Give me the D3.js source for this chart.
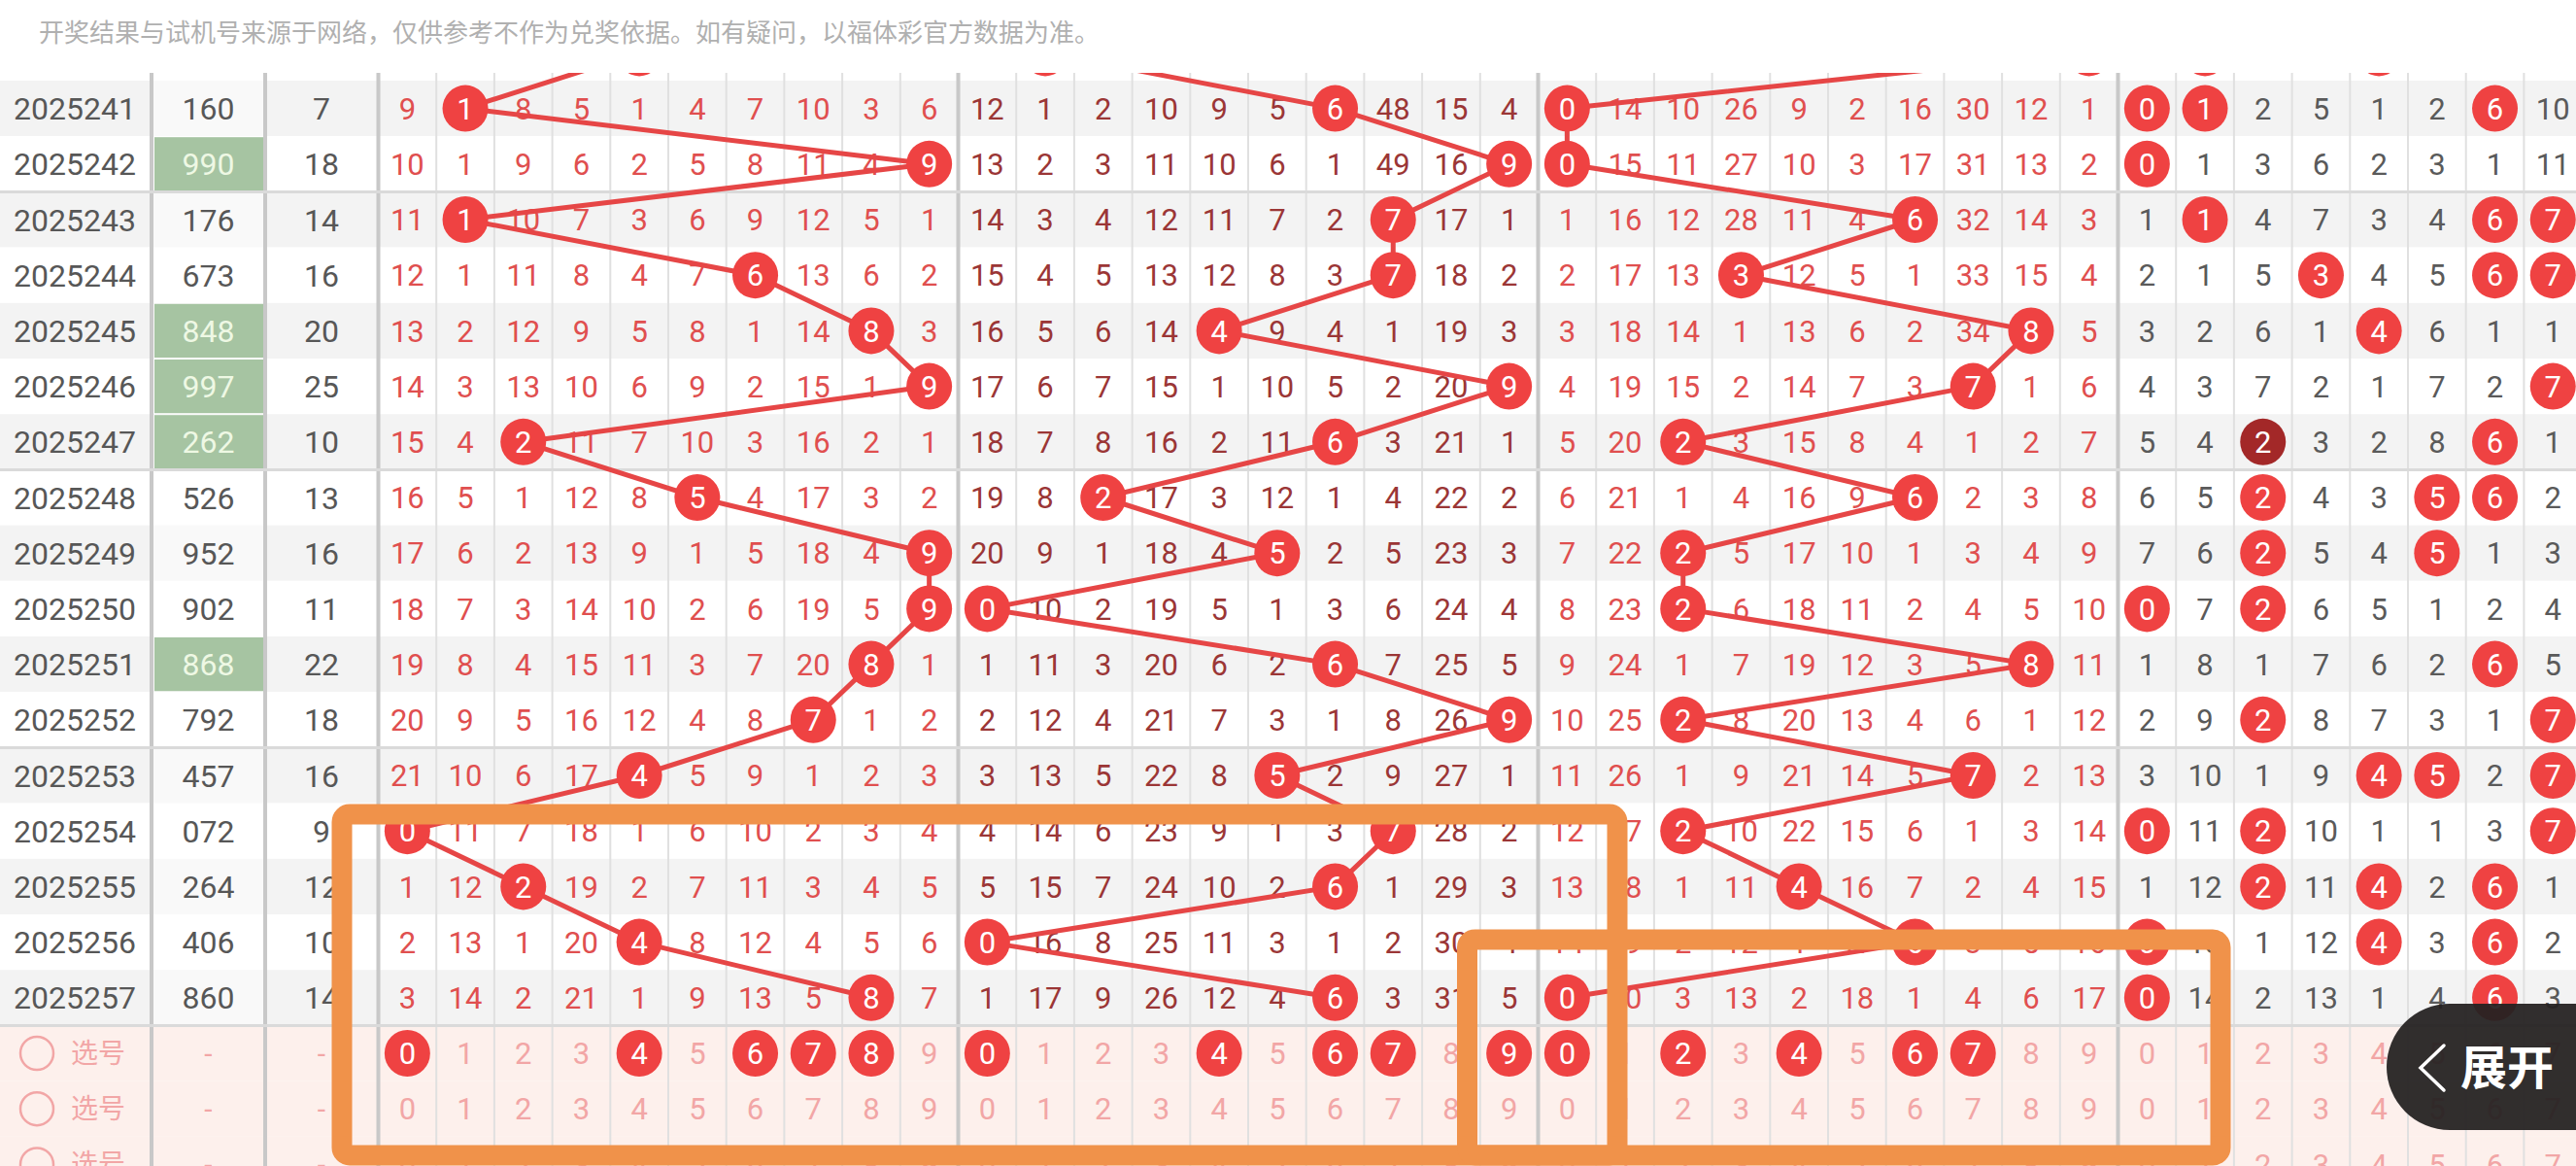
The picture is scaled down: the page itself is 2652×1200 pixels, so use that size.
<!DOCTYPE html>
<html><head><meta charset="utf-8">
<script src="https://cdn.jsdelivr.net/npm/d3@7"></script>
<style>html,body{margin:0;padding:0;background:#fff;overflow:hidden}svg{display:block}</style>
</head><body>
<script>
// ---------- data ----------
const prevPeriod = "2025240";
const prevNumber = "419";
const periods = ["2025241","2025242","2025243","2025244","2025245","2025246","2025247","2025248","2025249","2025250","2025251","2025252","2025253","2025254","2025255","2025256","2025257"];
const drawNumbers = ["160","990","176","673","848","997","262","526","952","902","868","792","457","072","264","406","860"];
const sums = [7,18,14,16,20,25,10,13,16,11,22,18,16,9,12,10,14];
const hundredsMiss = [
 [9,0,8,5,1,4,7,10,3,6],[10,1,9,6,2,5,8,11,4,0],[11,0,10,7,3,6,9,12,5,1],[12,1,11,8,4,7,0,13,6,2],
 [13,2,12,9,5,8,1,14,0,3],[14,3,13,10,6,9,2,15,1,0],[15,4,0,11,7,10,3,16,2,1],[16,5,1,12,8,0,4,17,3,2],
 [17,6,2,13,9,1,5,18,4,0],[18,7,3,14,10,2,6,19,5,0],[19,8,4,15,11,3,7,20,0,1],[20,9,5,16,12,4,8,0,1,2],
 [21,10,6,17,0,5,9,1,2,3],[0,11,7,18,1,6,10,2,3,4],[1,12,0,19,2,7,11,3,4,5],[2,13,1,20,0,8,12,4,5,6],
 [3,14,2,21,1,9,13,5,0,7]];
const tensMiss = [
 [12,1,2,10,9,5,0,48,15,4],[13,2,3,11,10,6,1,49,16,0],[14,3,4,12,11,7,2,0,17,1],[15,4,5,13,12,8,3,0,18,2],
 [16,5,6,14,0,9,4,1,19,3],[17,6,7,15,1,10,5,2,20,0],[18,7,8,16,2,11,0,3,21,1],[19,8,0,17,3,12,1,4,22,2],
 [20,9,1,18,4,0,2,5,23,3],[0,10,2,19,5,1,3,6,24,4],[1,11,3,20,6,2,0,7,25,5],[2,12,4,21,7,3,1,8,26,0],
 [3,13,5,22,8,0,2,9,27,1],[4,14,6,23,9,1,3,0,28,2],[5,15,7,24,10,2,0,1,29,3],[0,16,8,25,11,3,1,2,30,4],
 [1,17,9,26,12,4,0,3,31,5]];
const unitsMiss = [
 [0,14,10,26,9,2,16,30,12,1],[0,15,11,27,10,3,17,31,13,2],[1,16,12,28,11,4,0,32,14,3],[2,17,13,0,12,5,1,33,15,4],
 [3,18,14,1,13,6,2,34,0,5],[4,19,15,2,14,7,3,0,1,6],[5,20,0,3,15,8,4,1,2,7],[6,21,1,4,16,9,0,2,3,8],
 [7,22,0,5,17,10,1,3,4,9],[8,23,0,6,18,11,2,4,5,10],[9,24,1,7,19,12,3,5,0,11],[10,25,0,8,20,13,4,6,1,12],
 [11,26,1,9,21,14,5,0,2,13],[12,27,0,10,22,15,6,1,3,14],[13,28,1,11,0,16,7,2,4,15],[14,29,2,12,1,17,0,3,5,16],
 [0,30,3,13,2,18,1,4,6,17]];
// distribution (digits 0-7 visible)
const distMiss = [
 [0,0,2,5,1,2,0,10],[0,1,3,6,2,3,1,11],[1,0,4,7,3,4,0,0],[2,1,5,0,4,5,0,0],
 [3,2,6,1,0,6,1,1],[4,3,7,2,1,7,2,0],[5,4,0,3,2,8,0,1],[6,5,0,4,3,0,0,2],
 [7,6,0,5,4,0,1,3],[0,7,0,6,5,1,2,4],[1,8,1,7,6,2,0,5],[2,9,0,8,7,3,1,0],
 [3,10,1,9,0,0,2,0],[0,11,0,10,1,1,3,0],[1,12,0,11,0,2,0,1],[0,13,1,12,0,3,0,2],
 [0,14,2,13,1,4,0,3]];
const selHundreds = [0,4,6,7,8];
const selTens = [0,4,6,7,9];
const selUnits = [0,2,4,6,7];
const selRows = ["sel-1","sel-2","sel-3"];
const selLabel = "选号";
const digits = [0,1,2,3,4,5,6,7,8,9];
const headerText = "开奖结果与试机号来源于网络，仅供参考不作为兑奖依据。如有疑问，以福体彩官方数据为准。";
const buttonText = "展开";

// ---------- layout ----------
const W = 2652, H = 1200;
const rowH = 57.2, headerH = 75;
const colW = 59.7, gridLeft = 389.5;
const fixedCols = [{x0:0,x1:156},{x0:156,x1:273},{x0:273,x1:389.5}];
const C = {
  red:"#ef4242", dark:"#a32828", line:"#e64646",
  hund:"#e04f4f", tens:"#9b3636", units:"#e04f4f", dist:"#5a5a5a",
  pink:"#f2a6a6", text:"#575757", grayRow:"#f3f3f3", selBg:"#fdf0ec",
  green:"#a6c4a2", greenText:"#eef8e4", thin:"#e0e0e0", thick:"#c8c8c8",
  orange:"#f0924a"
};
const digitFont = "Roboto, 'Noto Sans', sans-serif";
const cjkFont = "'Noto Sans CJK SC', 'Noto Sans', sans-serif";

const rowKeys = [prevPeriod, ...periods, ...selRows];
const y = d3.scaleBand().domain(rowKeys).range([25.8, 25.8 + rowKeys.length*rowH]);
const x = d3.scaleBand().domain(d3.range(40)).range([gridLeft, gridLeft + 40*colW]);
const cx = i => x(i) + x.bandwidth()/2;
const cy = k => y(k) + y.bandwidth()/2;

const svg = d3.select("body").append("svg").attr("width", W).attr("height", H);

// ---------- backgrounds ----------
const rows = periods.map((p,i)=>({p,i,num:drawNumbers[i],sum:sums[i]}));
svg.append("g").selectAll("rect").data(rows).join("rect")
  .attr("x",0).attr("width",W).attr("y",d=>y(d.p)).attr("height",y.bandwidth())
  .attr("fill",d=>d.i%2===0?C.grayRow:"#ffffff");
// number column is lighter
svg.append("g").selectAll("rect").data(rows).join("rect")
  .attr("x",fixedCols[1].x0).attr("width",fixedCols[1].x1-fixedCols[1].x0).attr("y",d=>y(d.p)).attr("height",y.bandwidth())
  .attr("fill",d=>d.i%2===0?"#f9f9f9":"#ffffff");
svg.append("g").selectAll("rect").data(selRows).join("rect")
  .attr("x",0).attr("width",W).attr("y",d=>y(d)).attr("height",y.bandwidth())
  .attr("fill",C.selBg);
// group-three (repeated digit) numbers highlighted green
const isGroup3 = n => new Set(n.split("")).size < 3;
svg.append("g").selectAll("rect").data(rows.filter(d=>isGroup3(d.num))).join("rect")
  .attr("x",fixedCols[1].x0+3).attr("width",fixedCols[1].x1-fixedCols[1].x0-5)
  .attr("y",d=>y(d.p)+1).attr("height",y.bandwidth()-2).attr("fill",C.green);

// ---------- grid lines ----------
const gl = svg.append("g");
gl.selectAll("line.thin").data(d3.range(41).filter(i=>i%10!==0)).join("line")
  .attr("x1",i=>gridLeft+i*colW).attr("x2",i=>gridLeft+i*colW)
  .attr("y1",headerH).attr("y2",H).attr("stroke",C.thin).attr("stroke-width",2);
const thickX = [156,273,...[0,10,20,30].map(i=>x(i))];
gl.selectAll("line.thick").data(thickX).join("line")
  .attr("x1",d=>d).attr("x2",d=>d).attr("y1",headerH).attr("y2",H)
  .attr("stroke",C.thick).attr("stroke-width",4);
// group separators every five periods
const sepAfter = ["2025242","2025247","2025252","2025257"];
gl.selectAll("line.sep").data(sepAfter).join("line")
  .attr("x1",0).attr("x2",W).attr("y1",d=>y(d)+rowH).attr("y2",d=>y(d)+rowH)
  .attr("stroke","#dadada").attr("stroke-width",3);

// ---------- fixed columns text ----------
const ft = svg.append("g").attr("font-family",digitFont).attr("text-anchor","middle");
ft.selectAll("text.p").data(rows).join("text")
  .attr("x",77).attr("y",d=>cy(d.p)).attr("dy","0.36em").attr("font-size",32)
  .attr("fill",C.text).text(d=>d.p);
ft.selectAll("text.n").data(rows).join("text")
  .attr("x",214.5).attr("y",d=>cy(d.p)).attr("dy","0.36em").attr("font-size",32)
  .attr("fill",d=>isGroup3(d.num)?C.greenText:C.text).text(d=>d.num);
ft.selectAll("text.s").data(rows).join("text")
  .attr("x",331).attr("y",d=>cy(d.p)).attr("dy","0.36em").attr("font-size",32)
  .attr("fill",C.text).text(d=>d.sum);

// ---------- omission cells ----------
const sections = [
  {off:0, miss:hundredsMiss, color:C.hund, pos:0},
  {off:10, miss:tensMiss, color:C.tens, pos:1},
  {off:20, miss:unitsMiss, color:C.units, pos:2}
];
const cellData = [];
sections.forEach(s=>{
  s.miss.forEach((arr,r)=>arr.forEach((v,j)=>{
    if (v!==0) cellData.push({k:periods[r], col:s.off+j, v, color:s.color});
  }));
});
distMiss.forEach((arr,r)=>arr.forEach((v,j)=>{
  if (v!==0) cellData.push({k:periods[r], col:30+j, v, color:C.dist});
}));
svg.append("g").attr("font-family",digitFont).attr("text-anchor","middle").attr("font-size",31)
  .selectAll("text").data(cellData).join("text")
  .attr("x",d=>cx(d.col)).attr("y",d=>cy(d.k)).attr("dy","0.36em")
  .attr("fill",d=>d.color).text(d=>d.v);

// ---------- trend lines ----------
const allNums = [prevNumber, ...drawNumbers];
const allKeys = [prevPeriod, ...periods];
const lineGen = d3.line();
svg.append("g").selectAll("path").data(sections).join("path")
  .attr("d",s=>lineGen(allNums.map((n,i)=>[cx(s.off + +n[s.pos]), cy(allKeys[i])])))
  .attr("fill","none").attr("stroke",C.line).attr("stroke-width",5).attr("stroke-linejoin","round");

// ---------- balls ----------
const balls = [];
allNums.forEach((n,i)=>{
  sections.forEach(s=>balls.push({k:allKeys[i], col:s.off + +n[s.pos], t:n[s.pos], fill:C.red}));
  const counts = d3.rollup(n.split(""), v=>v.length, d=>d);
  counts.forEach((c,dg)=>{
    if (+dg <= 7) balls.push({k:allKeys[i], col:30 + +dg, t:dg, fill:c>1?C.dark:C.red});
  });
});
// selection row 1 picks
[[selHundreds,0],[selTens,10],[selUnits,20]].forEach(([arr,off])=>{
  arr.forEach(dg=>balls.push({k:selRows[0], col:off+dg, t:String(dg), fill:C.red}));
});
const bg = svg.append("g");
bg.selectAll("ellipse").data(balls).join("ellipse")
  .attr("cx",d=>cx(d.col)).attr("cy",d=>cy(d.k)).attr("rx",23.5).attr("ry",24).attr("fill",d=>d.fill);
bg.selectAll("text").data(balls).join("text")
  .attr("x",d=>cx(d.col)).attr("y",d=>cy(d.k)).attr("dy","0.36em")
  .attr("text-anchor","middle").attr("font-family",digitFont).attr("font-size",31)
  .attr("fill","#fff").text(d=>d.t);

// ---------- selection rows text ----------
const selText = [];
selRows.forEach((k,ri)=>{
  [0,10,20,30].forEach(off=>{
    digits.forEach(dg=>{
      const picked = ri===0 && off<30 && [selHundreds,selTens,selUnits][off/10].includes(dg);
      if (!picked) selText.push({k,col:off+dg,t:dg});
    });
  });
});
const sg = svg.append("g");
sg.selectAll("text.d").data(selText).join("text")
  .attr("x",d=>cx(d.col)).attr("y",d=>cy(d.k)).attr("dy","0.36em")
  .attr("text-anchor","middle").attr("font-family",digitFont).attr("font-size",31)
  .attr("fill",C.pink).text(d=>d.t);
sg.selectAll("circle").data(selRows).join("circle")
  .attr("cx",38).attr("cy",d=>cy(d)).attr("r",17).attr("fill","none")
  .attr("stroke",C.pink).attr("stroke-width",2.5);
sg.selectAll("text.l").data(selRows).join("text")
  .attr("x",73).attr("y",d=>cy(d)).attr("dy","0.36em").attr("font-family",cjkFont)
  .attr("font-size",28).attr("fill",C.pink).text(selLabel);
sg.selectAll("text.dash1").data(selRows).join("text")
  .attr("x",214.5).attr("y",d=>cy(d)).attr("dy","0.36em").attr("text-anchor","middle")
  .attr("font-family",digitFont).attr("font-size",30).attr("fill",C.pink).text("-");
sg.selectAll("text.dash2").data(selRows).join("text")
  .attr("x",331).attr("y",d=>cy(d)).attr("dy","0.36em").attr("text-anchor","middle")
  .attr("font-family",digitFont).attr("font-size",30).attr("fill",C.pink).text("-");

// ---------- annotation rectangles ----------
const boxes = [
  {x0:352, y0:838, x1:1665, y1:1189},
  {x0:1510.5, y0:967, x1:2286, y1:1189}
];
svg.append("g").selectAll("rect").data(boxes).join("rect")
  .attr("x",d=>d.x0).attr("y",d=>d.y0).attr("width",d=>d.x1-d.x0).attr("height",d=>d.y1-d.y0)
  .attr("rx",8).attr("fill","none").attr("stroke",C.orange).attr("stroke-width",21);

// ---------- header ----------
svg.append("rect").attr("x",0).attr("y",0).attr("width",W).attr("height",headerH).attr("fill","#fff");
svg.append("text").attr("x",40).attr("y",34).attr("dy","0.36em")
  .attr("font-family",cjkFont).attr("font-size",26).attr("fill","#b0b0b0").text(headerText);

// ---------- expand button ----------
const btn = svg.append("g");
btn.append("rect").attr("x",2457).attr("y",1033).attr("width",280).attr("height",130)
  .attr("rx",65).attr("fill","rgba(36,33,33,0.94)");
btn.append("path").attr("d","M2516,1076 L2492,1099 L2516,1122")
  .attr("fill","none").attr("stroke","#fff").attr("stroke-width",3.5).attr("stroke-linecap","round");
btn.append("text").attr("x",2533).attr("y",1099).attr("dy","0.36em")
  .attr("font-family",cjkFont).attr("font-weight",700).attr("font-size",48)
  .attr("fill","#fff").text(buttonText);
</script>
</body></html>
